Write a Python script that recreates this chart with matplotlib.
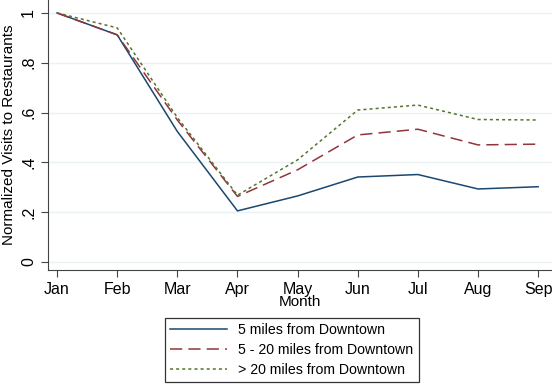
import numpy as np
import matplotlib.pyplot as plt

plt.rcParams['font.family'] = ['Liberation Sans', 'DejaVu Sans']

months = ['Jan', 'Feb', 'Mar', 'Apr', 'May', 'Jun', 'Jul', 'Aug', 'Sep']
near = [1.0, 0.912, 0.524, 0.205, 0.265, 0.341, 0.351, 0.293, 0.302]
mid = [1.0, 0.912, 0.570, 0.263, 0.370, 0.510, 0.533, 0.470, 0.473]
far = [1.0, 0.940, 0.580, 0.268, 0.410, 0.610, 0.630, 0.572, 0.570]

yticks = [0, 0.2, 0.4, 0.6, 0.8, 1.0]
ylabels = ['0', '.2', '.4', '.6', '.8', '1']

fig = plt.figure(figsize=(5.52, 3.85), dpi=100)
ax = fig.add_axes([0.087, 0.299, 0.913, 0.701])
x = np.arange(len(months))

ax.plot(x, near, color='#1A476F', lw=1.1, label='5 miles from Downtown')
ax.plot(x, mid, color='#90353B', lw=1.1, dashes=(8, 4), label='5 - 20 miles from Downtown')
ax.plot(x, far, color='#55752F', lw=1.1, dashes=(2, 2), label='> 20 miles from Downtown')

ax.set_xlim(-0.15, 8.23)
ax.set_ylim(-0.032, 1.052)
ax.set_xticks(x)
ax.set_xticklabels(months, fontsize=11.5)
ax.set_yticks(yticks)
ax.set_yticklabels(ylabels, fontsize=11.5, rotation=90, va='center')
ax.grid(axis='y', color='#EAF2F3', lw=1.0)
ax.set_axisbelow(True)
for s in ['top', 'right']:
    ax.spines[s].set_visible(False)
for s in ['left', 'bottom']:
    ax.spines[s].set_color('#444444')
ax.tick_params(colors='#444444', labelcolor='black', length=5, width=0.8)
ax.set_xlabel('Month', fontsize=11, labelpad=-1)
ax.set_ylabel('Normalized Visits to Restaurants', fontsize=11, labelpad=4)

leg = fig.legend(loc='center', bbox_to_anchor=(0.529, 0.091), fontsize=10.2,
                 frameon=True, fancybox=False, edgecolor='black',
                 handlelength=4, borderpad=0.35, labelspacing=0.4)
leg.get_frame().set_linewidth(0.9)

plt.savefig('out.png', dpi=100)
